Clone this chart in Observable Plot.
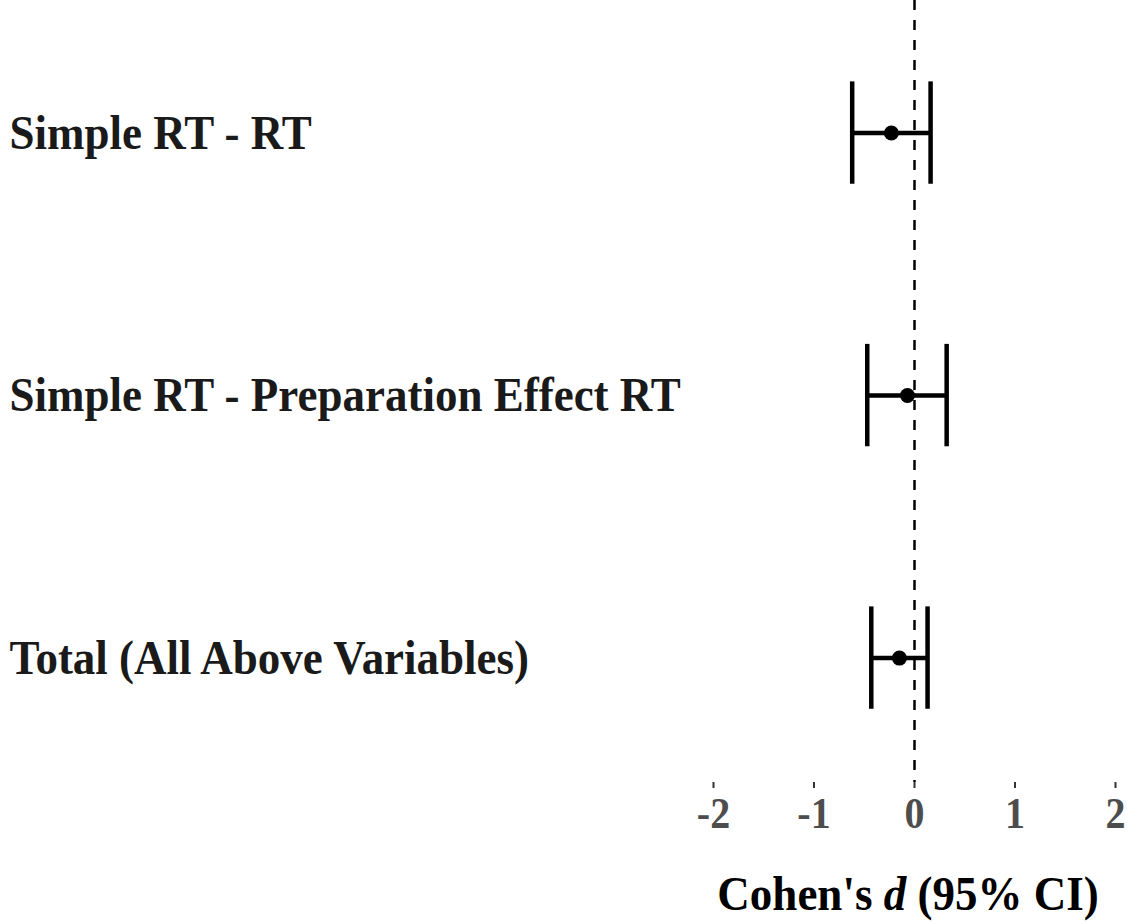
<!DOCTYPE html>
<html>
<head>
<meta charset="utf-8">
<script src="https://cdn.jsdelivr.net/npm/d3@7"></script>
<script src="https://cdn.jsdelivr.net/npm/@observablehq/plot@0.6"></script>
<style>
  html, body { margin: 0; padding: 0; background: #fff; }
  #wrap { width: 1134px; height: 924px; position: relative; overflow: hidden; }
  #wrap svg { display: block; }
  #xtitle { position: absolute; left: 700px; width: 416px; top: 872px; text-align: center;
    font-family: "Liberation Serif", "Times New Roman", serif; font-weight: bold; font-size: 45px; line-height: 1; color: #000; white-space: nowrap;
    transform: scaleY(1.1); transform-origin: center; }
</style>
</head>
<body>
<div id="wrap"></div>
<script>
const labels = ["Simple RT - RT", "Simple RT - Preparation Effect RT", "Total (All Above Variables)"];
const estimates = [-0.23, -0.07, -0.15];
const lower = [-0.62, -0.47, -0.43];
const upper = [0.16, 0.32, 0.13];
const xTicks = [-2, -1, 0, 1, 2];

const rows = labels.map((label, i) => ({i, label, est: estimates[i], lo: lower[i], hi: upper[i]}));
const capHalf = 0.195;
const font = "'Liberation Serif', 'Times New Roman', serif";

const chart = Plot.plot({
  width: 1134,
  height: 850,
  marginLeft: 713,
  marginRight: 19,
  marginTop: 0,
  marginBottom: 68,
  style: {fontFamily: font, background: "#fff"},
  x: {domain: [-2, 2]},
  y: {domain: [2.474, -0.505]},
  marks: [
    Plot.ruleX([0], {strokeDasharray: "10,10", strokeWidth: 2.5, stroke: "#000"}),
    Plot.ruleY(rows, {y: "i", x1: "lo", x2: "hi", stroke: "#000", strokeWidth: 4.5}),
    Plot.ruleX(rows, {x: "lo", y1: d => d.i - capHalf, y2: d => d.i + capHalf, stroke: "#000", strokeWidth: 4.5}),
    Plot.ruleX(rows, {x: "hi", y1: d => d.i - capHalf, y2: d => d.i + capHalf, stroke: "#000", strokeWidth: 4.5}),
    Plot.dot(rows, {x: "est", y: "i", r: 7.5, fill: "#000", stroke: "none"}),
    Plot.axisX({ticks: xTicks, tickFormat: d => d, tickSize: 6, tickPadding: 8, stroke: "#333", strokeWidth: 2,
      fontSize: 40, fontWeight: "bold", fill: "#4d4d4d", label: null}),
    Plot.axisY({ticks: rows.map(d => d.i), tickFormat: i => labels[i], tickSize: 0, textAnchor: "start", dx: -695,
      fontSize: 45, fontWeight: "bold", fill: "#1a1a1a", label: null})
  ]
});
// slight vertical stretch of the glyphs, as in the reference
d3.select(chart).selectAll("text").each(function() {
  const tr = this.getAttribute("transform");
  if (tr && tr.includes("translate")) this.setAttribute("transform", tr + " scale(1,1.1)");
});
const wrap = document.getElementById("wrap");
wrap.appendChild(chart);
const t = document.createElement("div");
t.id = "xtitle";
t.innerHTML = "Cohen's <i>d</i> (95% CI)";
wrap.appendChild(t);
</script>
</body>
</html>
